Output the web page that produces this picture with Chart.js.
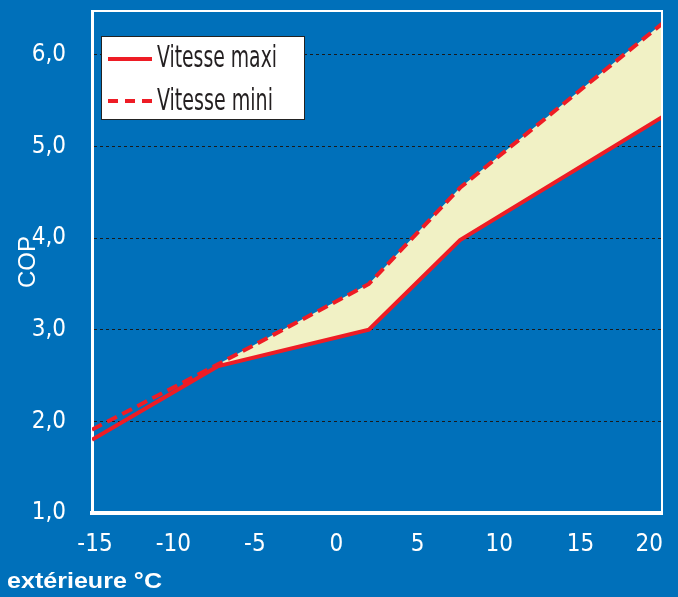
<!DOCTYPE html>
<html>
<head>
<meta charset="utf-8">
<script src="https://cdn.jsdelivr.net/npm/chart.js@4/dist/chart.umd.min.js"></script>
<style>
  html, body { margin: 0; padding: 0; background: #0070ba; }
  canvas { display: block; }
</style>
</head>
<body>
<canvas id="cop" width="678" height="597"></canvas>
<script>
// outside temperature (°C) where the curves bend
const temps = [-15, -7.3, 2, 7.6, 20];
const vitesseMaxi = [1.80, 2.60, 3.00, 3.98, 5.32];
const vitesseMini = [1.91, 2.62, 3.50, 4.55, 6.34];
const xTicks = [-15, -10, -5, 0, 5, 10, 15, 20];
const yTicks = [1, 2, 3, 4, 5, 6];

const RED = '#ee1c25';
const CREAM = '#f1f1c5';
const NARROW = '"Liberation Sans Narrow", "DejaVu Sans Condensed", sans-serif';

const pts = (ys, from) => temps.slice(from || 0).map((t, i) => ({ x: t, y: ys[(from || 0) + i] }));

// squeeze text horizontally so it takes a given width
function fitText(ctx, text, x, y, w) {
  const k = Math.min(1.2, w / ctx.measureText(text).width);
  ctx.save();
  ctx.translate(x, y);
  ctx.scale(k, 1);
  ctx.fillText(text, 0, 0);
  ctx.restore();
}

// legend box, axis titles and frame drawn on the canvas
const extras = {
  id: 'extras',
  beforeDraw(chart) {
    // last x label sits inside the plot edge, first one a bit right of the axis
    const items = chart.scales.x.getLabelItems();
    const last = items[items.length - 1];
    last.options.textAlign = 'right';
    last.options.translation[0] += 1;
    items[0].options.translation[0] += 3;
  },
  afterDraw(chart) {
    const { ctx, chartArea: a } = chart;
    ctx.save();
    // thin frame top / right
    ctx.strokeStyle = '#ffffff';
    ctx.lineWidth = 2;
    ctx.beginPath();
    ctx.moveTo(a.left, a.top);
    ctx.lineTo(a.right, a.top);
    ctx.lineTo(a.right, a.bottom);
    ctx.stroke();

    // legend
    ctx.fillStyle = '#ffffff';
    ctx.fillRect(101, 36, 204, 84);
    ctx.strokeStyle = '#222222';
    ctx.lineWidth = 1;
    ctx.strokeRect(101.5, 36.5, 203, 83);
    ctx.strokeStyle = RED;
    ctx.lineWidth = 4;
    ctx.beginPath();
    ctx.moveTo(108, 59); ctx.lineTo(152, 59);
    ctx.stroke();
    ctx.setLineDash([10, 7]);
    ctx.beginPath();
    ctx.moveTo(108, 101); ctx.lineTo(152, 101);
    ctx.stroke();
    ctx.setLineDash([]);
    ctx.fillStyle = '#231f20';
    ctx.font = '31px ' + NARROW;
    ctx.textBaseline = 'alphabetic';
    fitText(ctx, 'Vitesse maxi', 157, 67, 120);
    fitText(ctx, 'Vitesse mini', 157, 110, 116);

    // axis titles
    ctx.fillStyle = '#ffffff';
    ctx.font = 'bold 22px "Liberation Sans", Arial, sans-serif';
    fitText(ctx, 'extérieure °C', 7, 588, 155);
    ctx.translate(35, 262);
    ctx.rotate(-Math.PI / 2);
    ctx.textAlign = 'center';
    ctx.font = '24px "Liberation Sans", Arial, sans-serif';
    ctx.fillText('COP', 0, 0);
    ctx.restore();
  }
};

new Chart(document.getElementById('cop'), {
  type: 'line',
  data: {
    datasets: [
      {
        label: 'Vitesse maxi',
        data: pts(vitesseMaxi),
        borderColor: RED,
        borderWidth: 4,
        pointRadius: 0,
        fill: false,
        order: 0
      },
      {
        label: 'Vitesse mini',
        data: pts(vitesseMini),
        borderColor: RED,
        borderWidth: 4,
        borderDash: [11, 6],
        pointRadius: 0,
        fill: false,
        order: 0
      },
      {
        label: 'band',
        data: pts(vitesseMini, 1),
        borderWidth: 0,
        borderColor: 'rgba(0,0,0,0)',
        backgroundColor: CREAM,
        pointRadius: 0,
        fill: 0,
        order: 5
      }
    ]
  },
  options: {
    responsive: false,
    animation: false,
    layout: { padding: { top: 11, right: 16, left: 0, bottom: 0 } },
    plugins: { legend: { display: false }, tooltip: { enabled: false } },
    scales: {
      x: {
        type: 'linear',
        min: -15,
        max: 20,
        afterBuildTicks: s => { s.ticks = xTicks.map(v => ({ value: v })); },
        afterFit: s => { s.height = 84; s.paddingLeft = 0; s.paddingRight = 0; },
        grid: { display: false, drawTicks: false },
        border: { display: true, color: '#ffffff', width: 4 },
        ticks: {
          color: '#ffffff',
          padding: 17,
          maxRotation: 0,
          font: { family: NARROW, size: 24 }
        }
      },
      y: {
        min: 1,
        max: 6.48,
        afterBuildTicks: s => { s.ticks = yTicks.map(v => ({ value: v })); },
        afterFit: s => { s.width = 92; s.paddingTop = 0; s.paddingBottom = 0; },
        grid: {
          drawTicks: false,
          color: c => (c.tick && c.tick.value === 1 ? 'rgba(0,0,0,0)' : '#1a1a1a'),
          lineWidth: 1
        },
        border: { display: true, color: '#ffffff', width: 3, dash: [3, 3] },
        ticks: {
          color: '#ffffff',
          padding: 26,
          font: { family: NARROW, size: 24 },
          callback: v => v.toFixed(1).replace('.', ',')
        }
      }
    }
  },
  plugins: [extras]
});
</script>
</body>
</html>
